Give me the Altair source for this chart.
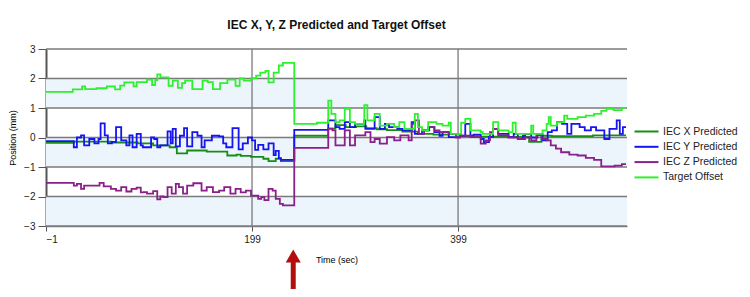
import altair as alt
import pandas as pd

title_text = "IEC X, Y, Z Predicted and Target Offset"
series_names = ["IEC X Predicted", "IEC Y Predicted", "IEC Z Predicted", "Target Offset"]
series_colors = ["#178c17", "#1515f0", "#8a1f8a", "#2ef02e"]

x_t = [-1, 26, 62, 88, 103, 119, 126, 136, 155, 175, 184, 188, 198, 210, 215, 222, 227,
       240, 273, 280, 290, 300, 310, 320, 330, 345, 360, 375, 390, 402, 420, 440, 468, 480, 490, 530, 562]
x_v = [-0.18, -0.14, -0.17, -0.2, -0.27, -0.33, -0.54, -0.44, -0.48, -0.61, -0.58, -0.62, -0.66, -0.72, -0.8, -0.72, -0.8,
       0.06, 0.3, 0.42, 0.35, 0.38, 0.32, 0.28, 0.25, 0.2, 0.12, 0.1, 0.12, 0.05, 0.03, 0.02, -0.15, 0.06, 0.05, 0.07, 0.07]

y_t = [-1, 26, 29, 33, 36, 41, 46, 50, 52, 56, 59, 63, 67, 72, 77, 80, 83, 87, 91, 93, 101, 104, 107, 110,
       117, 120, 122, 125, 129, 133, 136, 141, 146, 150, 153, 160, 167, 171, 174, 180, 186, 190, 195, 199,
       202, 205, 210, 215, 220, 222, 225, 227,
       240, 273, 280, 284, 289, 294, 299, 308, 309, 318, 323, 328, 332, 340, 345, 354, 357, 364, 371, 376,
       381, 384, 390, 401, 406, 411, 414, 421, 424, 429, 433, 438, 448, 453, 457, 462, 464, 470, 476, 481,
       486, 490, 495, 500, 505, 509, 517, 522, 528, 533, 541, 546, 553, 556, 559, 562]
y_v = [-0.12, -0.33, 0.0, 0.07, -0.27, -0.05, -0.2, -0.05, 0.48, 0.07, -0.2, -0.15, 0.35, -0.1, -0.27, 0.07,
       -0.33, 0.12, -0.27, -0.33, 0.0, -0.05, -0.33, -0.27,
       0.21, -0.2, 0.29, -0.3, 0.06, 0.32, -0.3, 0.18, 0.06, -0.33, -0.1, 0.06, 0.04, -0.2, -0.33, 0.32,
       -0.4, -0.2, 0.0, -0.1, -0.42, -0.25, -0.4, -0.2, -0.6, -0.45, -0.7, -0.76,
       0.26, 0.58, 0.35, 0.29, 0.52, 0.35, 0.46, 0.58, 0.29, 0.69, 0.29, 0.46, 0.35, 0.29, 0.24, 0.52, 0.12,
       0.24, 0.35, 0.18, 0.06, 0.18, 0.01, 0.06, 0.46, 0.06, 0.1, -0.05, -0.16, 0.02, 0.29, 0.12, 0.02, 0.12,
       -0.05, 0.06, 0.12, 0.0, 0.12, -0.1, 0.18, 0.24, 0.52, 0.46, 0.12, 0.46, 0.35, 0.24, 0.35, 0.24, -0.05,
       0.29, 0.58, 0.12, 0.35, 0.35]

z_t = [-1, 26, 29, 33, 36, 51, 55, 62, 67, 72, 77, 82, 87, 91, 94, 97, 103, 107, 110, 113, 117, 121, 125,
       128, 132, 136, 142, 150, 155, 161, 167, 172, 178, 183, 188, 193, 198, 205, 208, 211, 215, 219, 222,
       226, 229,
       240, 273, 277, 280, 289, 294, 299, 309, 314, 318, 323, 330, 337, 343, 351, 354, 357, 361, 366, 370,
       376, 381, 390, 397, 401, 411, 421, 426, 430, 433, 438, 448, 457, 464, 470, 475, 480, 485, 489, 494,
       499, 507, 515, 523, 531, 538, 551, 558, 562]
z_v = [-1.54, -1.63, -1.57, -1.74, -1.63, -1.54, -1.66, -1.74, -1.8, -1.68, -1.83, -1.74, -1.7, -1.86,
       -1.85, -1.9, -1.82, -2.1, -2.0, -2.02, -1.68, -1.9, -1.57, -1.68, -1.9, -1.63, -1.55, -1.8, -1.68,
       -1.85, -1.8, -1.68, -1.9, -1.74, -1.86, -1.8, -1.97, -2.08, -2.02, -2.12, -1.74, -1.8, -2.08, -2.25,
       -2.3,
       -0.35, 0.3, 0.24, -0.27, 0.24, -0.27, 0.07, 0.18, -0.16, -0.05, -0.21, 0.01, -0.1, 0.07, -0.1, 0.46,
       0.58, 0.12, 0.24, 0.35, 0.24, 0.18, 0.12, 0.0, 0.06, 0.01, -0.21, -0.1, 0.18, 0.29, 0.07, 0.0, -0.05,
       0.0, -0.1, 0.07, -0.05, -0.1, -0.27, -0.38, -0.5, -0.58, -0.61, -0.69, -0.76, -0.98, -0.95, -0.9, -0.9]

tgt_t = [-1, 25, 34, 37, 48, 58, 66, 71, 75, 84, 87, 97, 102, 105, 107, 110, 118, 122, 127, 131, 134, 141,
         151, 156, 161, 168, 175, 183, 187, 191, 198, 203, 207, 212, 215, 220, 225, 229,
         240, 262, 273, 276, 280, 284, 289, 294, 299, 308, 311, 318, 323, 330, 337, 342, 347, 357, 360, 364,
         370, 378, 384, 390, 392, 402, 406, 411, 421, 423, 433, 438, 448, 452, 455, 470, 472, 481, 485, 487,
         489, 495, 502, 505, 515, 523, 531, 538, 543, 550, 558, 562]
tgt_v = [1.55, 1.63, 1.73, 1.64, 1.67, 1.73, 1.63, 1.76, 1.87, 1.73, 1.88, 1.96, 1.78, 1.95, 2.14, 2.04,
         1.75, 1.93, 1.68, 1.84, 1.93, 1.64, 1.93, 1.88, 1.64, 1.84, 1.96, 1.75, 2.0, 1.93, 2.01, 2.1, 2.2,
         2.26, 1.87, 2.2, 2.44, 2.53,
         0.46, 0.5, 1.25, 0.8, 0.52, 0.58, 0.97, 0.52, 0.46, 1.1, 0.58, 0.8, 0.4, 0.46, 0.35, 0.52, 0.29, 0.8,
         0.35, 0.24, 0.52, 0.46, 0.4, 0.5, 0.12, 0.5, 0.63, 0.24, 0.18, 0.12, 0.52, 0.24, 0.18, 0.5, 0.12,
         0.4, 0.12, 0.24, 0.46, 0.69, 0.4, 0.52, 0.74, 0.63, 0.69, 0.74, 0.8, 0.9, 0.97, 0.93, 1.0, 1.0]

band_lo = [1, -1, -3]
band_hi = [2, 0, -2]
y_ticks = [-3, -2, -1, 0, 1, 2, 3]
x_ticks = [-1, 199, 399]
x_grid = [199, 399]
arrow_t = [239]

rows = []
for name, ts, vs in zip(series_names, [x_t, y_t, z_t, tgt_t], [x_v, y_v, z_v, tgt_v]):
    for t, v in zip(ts, vs):
        rows.append({"series": name, "t": t, "v": v})
df = pd.DataFrame(rows)

xscale = alt.Scale(domain=[-1, 563], nice=False, zero=False)
yscale = alt.Scale(domain=[-3, 3], nice=False)
FONT = "Liberation Sans"

x_axis = alt.Axis(values=x_ticks, title="Time (sec)", grid=False, domainColor="#808080",
                  domainWidth=1.5, tickColor="#555", tickSize=5, labelFontSize=10,
                  labelColor="#222", labelFont=FONT, titleFont=FONT, titleFontSize=9,
                  titleFontWeight="normal", titlePadding=11, labelPadding=3, labelOverlap=False)
y_axis = alt.Axis(values=y_ticks, title="Position (mm)", grid=False, domainColor="#555",
                  domainWidth=2, tickColor="#555", tickSize=8, labelFontSize=10,
                  labelColor="#222", labelFont=FONT, titleFont=FONT, titleFontSize=9,
                  titleFontWeight="normal", titlePadding=6, labelPadding=3, labelOverlap=False)

bands = alt.Chart(pd.DataFrame({"lo": band_lo, "hi": band_hi})).mark_rect(color="#edf5fc").encode(
    x=alt.value(0), x2=alt.value(581),
    y=alt.Y("lo:Q", scale=yscale, axis=y_axis), y2="hi:Q")

hgrid = alt.Chart(pd.DataFrame({"g": y_ticks})).mark_rule(color="#7a7a7a", strokeWidth=1.3).encode(
    y=alt.Y("g:Q", scale=yscale, axis=y_axis), x=alt.value(0), x2=alt.value(581))

vgrid = alt.Chart(pd.DataFrame({"g": x_grid})).mark_rule(color="#7a7a7a", strokeWidth=1.3).encode(
    x=alt.X("g:Q", scale=xscale, axis=x_axis), y=alt.value(0), y2=alt.value(177))

lines = alt.Chart(df).mark_line(interpolate="step-after", strokeWidth=1.8).encode(
    x=alt.X("t:Q", scale=xscale, axis=x_axis),
    y=alt.Y("v:Q", scale=yscale, axis=y_axis),
    color=alt.Color("series:N", scale=alt.Scale(domain=series_names, range=series_colors),
                    sort=series_names,
                    legend=alt.Legend(title=None, orient="none", legendX=592, legendY=74,
                                      symbolType="M-1.6,0L1.6,0", symbolSize=225, symbolStrokeWidth=2,
                                      labelFontSize=10.5, labelFont=FONT, labelColor="#222",
                                      rowPadding=1.3, padding=0, labelOffset=8)),
    detail="series:N",
)

arrow_shaft = alt.Chart(pd.DataFrame({"t": arrow_t})).mark_rule(color="#b50d0d", strokeWidth=5).encode(
    x=alt.X("t:Q", scale=xscale, axis=x_axis), y=alt.value(212), y2=alt.value(240))
arrow_head = alt.Chart(pd.DataFrame({"t": arrow_t})).mark_point(
    shape="M0,-0.87L1,0.87L-1,0.87Z", size=225, filled=True, color="#b50d0d", opacity=1).encode(
    x=alt.X("t:Q", scale=xscale, axis=x_axis), y=alt.value(207))

chart = alt.layer(bands, hgrid, vgrid, lines, arrow_shaft, arrow_head).properties(
    width=581, height=177,
    title=alt.TitleParams(title_text, fontSize=12, font=FONT, fontWeight="bold", anchor="middle",
                          offset=12, color="#111"),
    autosize=alt.AutoSizeParams(type="none"),
    padding={"left": 38, "top": 41, "right": 115, "bottom": 63},
).configure_view(stroke=None)

chart.save("out.html", embed_options={"renderer": "svg", "actions": False})
